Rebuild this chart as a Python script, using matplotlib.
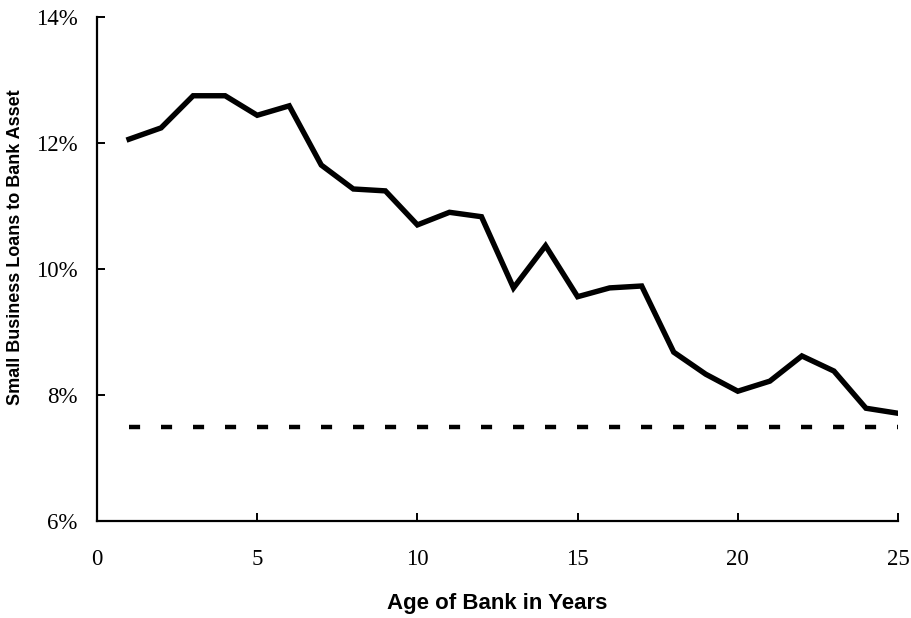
import matplotlib
matplotlib.use("Agg")
import matplotlib.pyplot as plt
from matplotlib.patches import Rectangle
from matplotlib.ticker import FuncFormatter


# age of bank in years
ages = list(range(1, 26))
# small business loans to bank assets (percent)
loan_share = [12.06, 12.24, 12.75, 12.75, 12.44, 12.59, 11.65, 11.27, 11.24, 10.70,
              10.90, 10.83, 9.70, 10.37, 9.56, 9.70, 9.73, 8.68, 8.33, 8.06,
              8.22, 8.62, 8.38, 7.79, 7.71]
# benchmark level (percent)
benchmark_x = [1, 25]
benchmark_y = [7.5, 7.5]

x_ticks = [0, 5, 10, 15, 20, 25]
y_ticks = [6, 8, 10, 12, 14]

fig = plt.figure(figsize=(9.12, 6.18), dpi=100)
ax = fig.add_axes([97 / 912, 97 / 618, 801 / 912, 504 / 618])

ax.plot(ages, loan_share, color="black", linewidth=3.9, solid_joinstyle="miter")
ax.plot(benchmark_x, benchmark_y, color="black", linewidth=3.2,
        linestyle=(0, (2.5, 4.7)), dash_capstyle="butt")

ax.set_xlim(0, 25)
ax.set_ylim(6, 14)
ax.set_xticks(x_ticks)
ax.set_yticks(y_ticks)
ax.yaxis.set_major_formatter(FuncFormatter(lambda v, p: "%d%%" % v))

for s in ["top", "right"]:
    ax.spines[s].set_visible(False)
for s in ["left", "bottom"]:
    ax.spines[s].set_linewidth(1.6)

ax.tick_params(axis="both", direction="in", length=6, width=1.4, labelsize=16.5)
ax.tick_params(axis="x", pad=20)
ax.tick_params(axis="y", pad=14)
for lab in ax.get_xticklabels() + ax.get_yticklabels():
    lab.set_family("Liberation Serif")

ax.set_xlabel("Age of Bank in Years", fontsize=16, fontweight="bold",
              family="Liberation Sans", labelpad=17)

ylab = fig.text(16 / 912, 1 - 405 / 618, "Small Business Loans to Bank Assets",
                rotation=90, ha="center", va="bottom", fontsize=13,
                fontweight="bold", family="Liberation Sans")
clip = Rectangle((0, 0), 1, 1 - 90 / 618, transform=fig.transFigure)
ylab.set_clip_path(clip)

fig.savefig("out.png", dpi=100)
